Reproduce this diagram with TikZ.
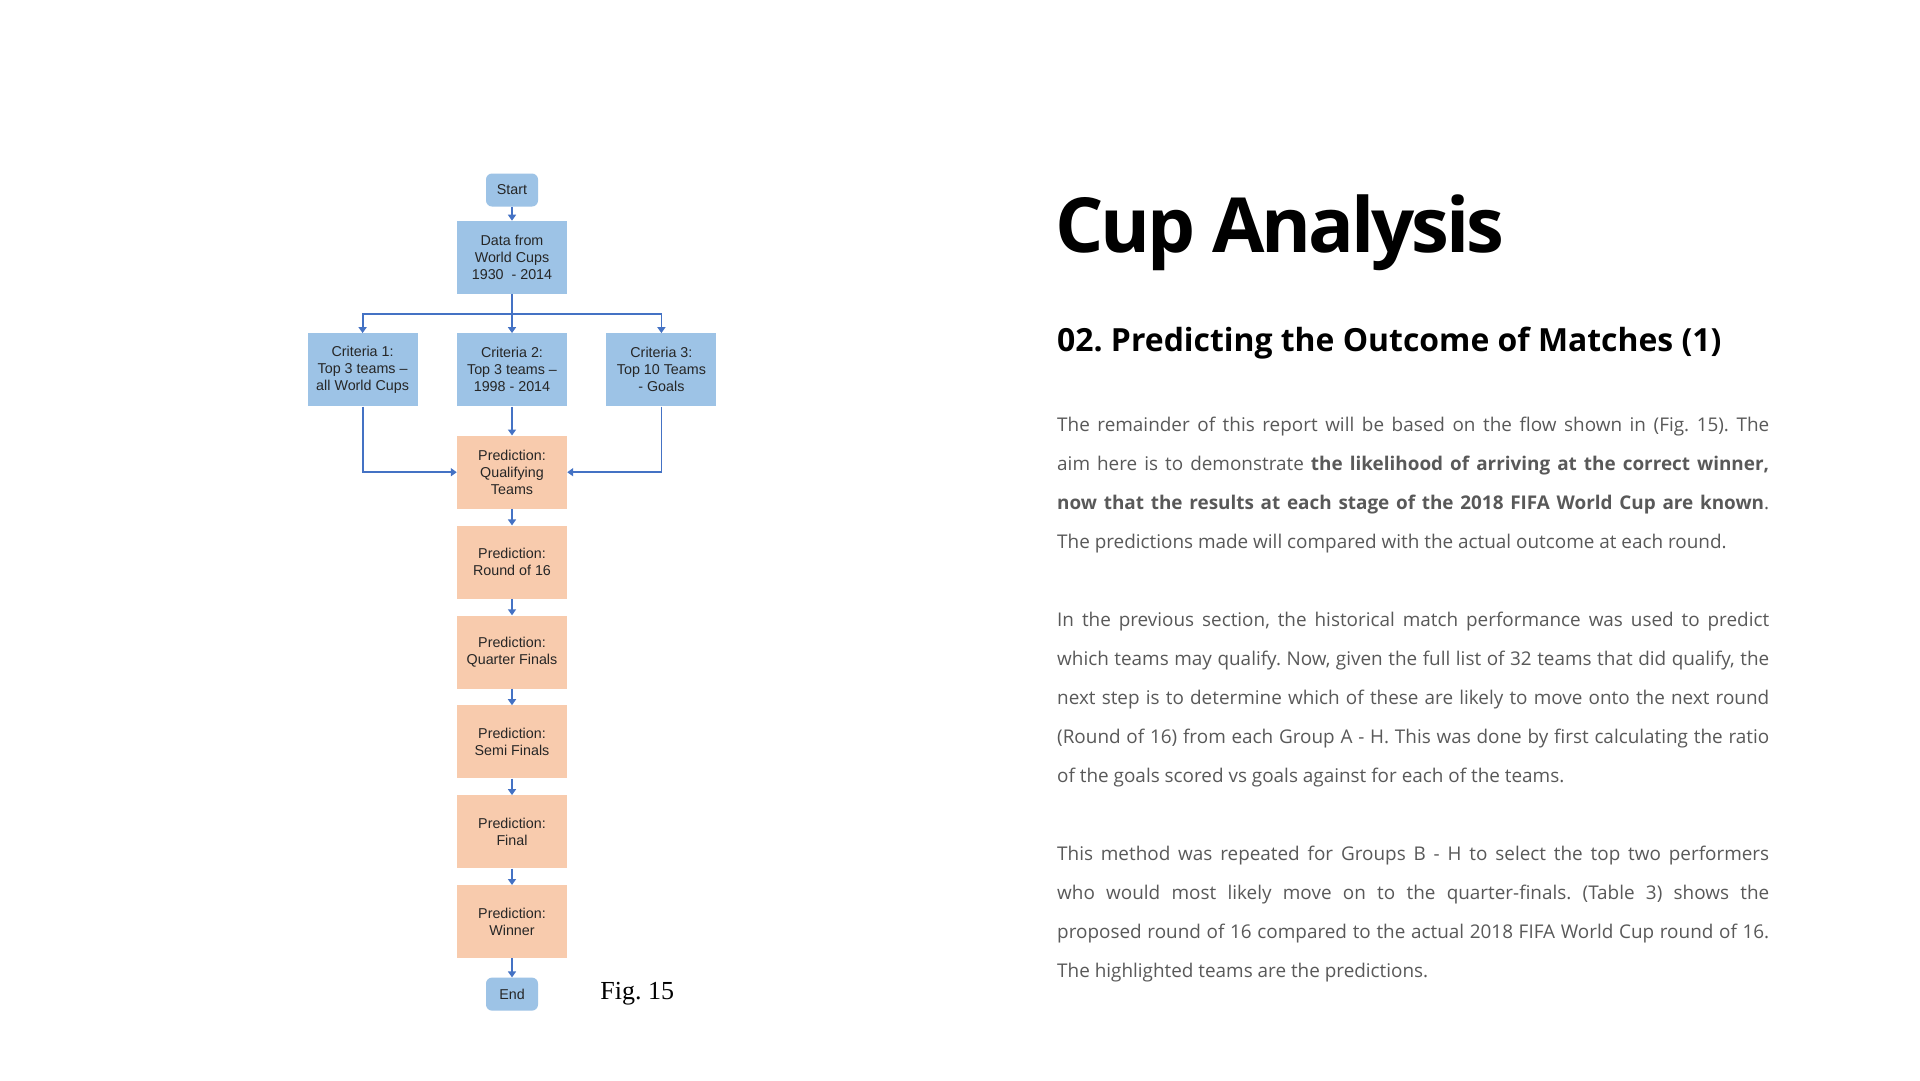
\documentclass[tikz,border=0pt]{standalone}
\usepackage{fontspec}
\setmainfont{Open Sans}
\newfontfamily\flowfont{Liberation Sans}
\newfontfamily\figfont{Liberation Serif}
\newfontfamily\titlefont[LetterSpace=-4]{Open Sans}
\usetikzlibrary{positioning, arrows.meta}
\definecolor{boxblue}{HTML}{9DC3E6}
\definecolor{boxorange}{HTML}{F8CBAD}
\definecolor{linkblue}{HTML}{4472C4}
\definecolor{bodygrey}{HTML}{595959}
\frenchspacing

\begin{document}
\begin{tikzpicture}[
    x=1pt, y=-1pt,
    node distance=16.5pt,
    flow box/.style={minimum width=110pt, minimum height=73pt, inner sep=2pt,
      align=center, text=black!85, font=\flowfont\fontsize{14.3}{17}\selectfont},
    data box/.style={flow box, fill=boxblue},
    pred box/.style={flow box, fill=boxorange},
    term box/.style={flow box, fill=boxblue, rounded corners=6pt,
      minimum width=52pt, minimum height=33pt},
    link/.style={draw=linkblue, line width=1.8pt,
      -{Triangle[width=8pt, length=6pt]}},
    body/.style={anchor=base west, inner sep=0pt, text width=712pt, align=justify,
      text=bodygrey, font=\fontsize{18.9}{39.1}\selectfont}
  ]
  \useasboundingbox[fill=white] (0,0) rectangle (1920,1080);

  % Flow chart
  \node[term box] (start) at (512,190)            {Start};
  \node[data box, below=14pt of start] (data)     {Data from\\World Cups\\1930~ - 2014};

  \node[data box, below=39pt of data] (crit2)     {Criteria 2:\\Top 3 teams –\\1998 - 2014};
  \node[data box, left=39pt of crit2] (crit1)     {Criteria 1:\\Top 3 teams –\\all World Cups};
  \node[data box, right=39pt of crit2] (crit3)    {Criteria 3:\\Top 10 Teams\\- Goals};

  \node[pred box, below=29pt of crit2] (qual)     {Prediction:\\Qualifying\\Teams};
  \node[pred box, below=of qual] (round16)        {Prediction:\\Round of 16};
  \node[pred box, below=of round16] (quarter)     {Prediction:\\Quarter Finals};
  \node[pred box, below=of quarter] (semi)        {Prediction:\\Semi Finals};
  \node[pred box, below=of semi] (final)          {Prediction:\\Final};
  \node[pred box, below=of final] (winner)        {Prediction:\\Winner};
  \node[term box, below=19pt of winner] (end)     {End};

  \node[right=62pt of end, inner sep=0pt, font=\figfont\fontsize{26}{30}\selectfont] (fig) {Fig. 15};

  % Connectors
  \path (data.south) -- coordinate[pos=0.5] (branch) (crit2.north);
  \draw[link] (start) -- (data);
  \draw[link] (data) -- (crit2);
  \draw[link] (branch) -| (crit1.north);
  \draw[link] (branch) -| (crit3.north);
  \draw[link] (crit1.south) |- (qual.west);
  \draw[link] (crit3.south) |- (qual.east);
  \draw[link] (crit2) -- (qual);
  \draw[link] (qual) -- (round16);
  \draw[link] (round16) -- (quarter);
  \draw[link] (quarter) -- (semi);
  \draw[link] (semi) -- (final);
  \draw[link] (final) -- (winner);
  \draw[link] (winner) -- (end);

  % Text column
  \node[anchor=base west, inner sep=0pt, font=\titlefont\bfseries\fontsize{76}{82}\selectfont] (title) at (1055,252) {Cup Analysis};
  \node[anchor=base west, inner sep=0pt, font=\bfseries\fontsize{31.9}{36}\selectfont] (subtitle) at (1057,351) {02. Predicting the Outcome of Matches (1)};

  \node[body] (para1) at (1057,431) {The remainder of this report will be based on the flow shown in (Fig. 15). The\linebreak
    aim here is to demonstrate \textbf{the likelihood of arriving at the correct winner,}\linebreak
    \textbf{now that the results at each stage of the 2018 FIFA World Cup are known}.\linebreak
    The predictions made will compared with the actual outcome at each round.};
  \node[body] (para2) at (1057,626.5) {In the previous section, the historical match performance was used to predict\linebreak
    which teams may qualify. Now, given the full list of 32 teams that did qualify, the\linebreak
    next step is to determine which of these are likely to move onto the next round\linebreak
    (Round of 16) from each Group A - H. This was done by first calculating the ratio\linebreak
    of the goals scored vs goals against for each of the teams.};
  \node[body] (para3) at (1057,860) {This method was repeated for Groups B - H to select the top two performers\linebreak
    who would most likely move on to the quarter-finals. (Table 3) shows the\linebreak
    proposed round of 16 compared to the actual 2018 FIFA World Cup round of 16.\linebreak
    The highlighted teams are the predictions.};
\end{tikzpicture}
\end{document}
